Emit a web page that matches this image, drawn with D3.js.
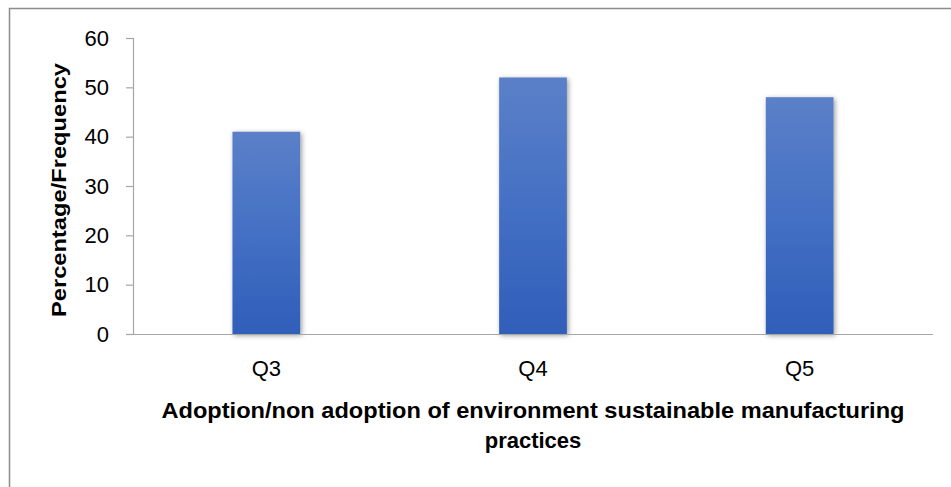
<!DOCTYPE html>
<html>
<head>
<meta charset="utf-8">
<script src="https://cdn.jsdelivr.net/npm/d3@7"></script>
<style>
  html, body { margin: 0; padding: 0; background: #fff; }
  svg { display: block; }
  text { font-family: "Liberation Sans", Arial, sans-serif; fill: #000; }
</style>
</head>
<body>
<div id="chart"></div>
<script>
const categories = ["Q3", "Q4", "Q5"];
const values = [41, 52, 48];
const yTicks = [0, 10, 20, 30, 40, 50, 60];
const yTitle = "Percentage/Frequency";
const xTitleLines = ["Adoption/non adoption of environment sustainable manufacturing", "practices"];

const W = 951, H = 487;
const svg = d3.select("#chart").append("svg").attr("width", W).attr("height", H);

const defs = svg.append("defs");
const grad = defs.append("linearGradient").attr("id", "barGrad")
  .attr("x1", 0).attr("y1", 0).attr("x2", 0).attr("y2", 1);
grad.append("stop").attr("offset", "0%").attr("stop-color", "#5b80c8");
grad.append("stop").attr("offset", "50%").attr("stop-color", "#4470c4");
grad.append("stop").attr("offset", "100%").attr("stop-color", "#2f5eb9");
const filt = defs.append("filter").attr("id", "shadow")
  .attr("x", "-30%").attr("y", "-10%").attr("width", "160%").attr("height", "120%");
filt.append("feDropShadow").attr("dx", 1.5).attr("dy", 1.5).attr("stdDeviation", 2.5)
  .attr("flood-color", "#000").attr("flood-opacity", 0.4);

// outer chart border (cropped at right/bottom)
svg.append("rect").attr("x", 9.5).attr("y", 8.5).attr("width", 1000).attr("height", 600)
  .attr("fill", "none").attr("stroke", "#8c8c8c").attr("stroke-width", 1.5);

const plotL = 133, plotR = 933, plotT = 38, plotB = 334;
const x = d3.scaleBand().domain(categories).range([plotL, plotR])
  .paddingInner(0.746).paddingOuter(0.373);
const xc = d3.scaleBand().domain(categories).range([plotL, plotR]);
const y = d3.scaleLinear().domain([0, 60]).range([plotB, plotT]);

// bars
svg.append("g").selectAll("rect").data(values).join("rect")
  .attr("x", (d, i) => x(categories[i]))
  .attr("width", x.bandwidth())
  .attr("y", d => y(d))
  .attr("height", d => y(0) - y(d))
  .attr("fill", "url(#barGrad)")
  .attr("filter", "url(#shadow)");

// y axis
const yAxis = svg.append("g").attr("transform", `translate(${plotL},0)`)
  .call(d3.axisLeft(y).tickValues(yTicks).tickSize(7).tickPadding(17).tickFormat(d3.format("d")));
yAxis.select(".domain").attr("stroke", "#a6a6a6").attr("stroke-width", 1.2);
yAxis.selectAll(".tick line").attr("stroke", "#a6a6a6").attr("stroke-width", 1.2);
yAxis.selectAll(".tick text").attr("fill", "#000")
  .style("font-size", "22px").style("font-family", "'Liberation Sans', Arial, sans-serif");

// x axis
const xAxis = svg.append("g").attr("transform", `translate(0,${plotB})`)
  .call(d3.axisBottom(xc).tickSize(0).tickPadding(26));
xAxis.select(".domain").attr("stroke", "#a6a6a6").attr("stroke-width", 1.2)
  .attr("d", `M${plotL - 7},0.5H${plotR}`);
xAxis.selectAll(".tick text").attr("fill", "#000")
  .style("font-size", "22px").style("font-family", "'Liberation Sans', Arial, sans-serif");

// y title
svg.append("text")
  .attr("transform", `translate(66,${(63 + 317) / 2}) rotate(-90)`)
  .attr("text-anchor", "middle")
  .style("font-size", "21px").style("font-weight", "bold")
  .attr("textLength", 254).attr("lengthAdjust", "spacingAndGlyphs")
  .text(yTitle);

// x title
const xt = svg.append("text").attr("text-anchor", "middle")
  .style("font-size", "22px").style("font-weight", "bold");
xt.append("tspan").attr("x", 533).attr("y", 418).attr("textLength", 743)
  .attr("lengthAdjust", "spacingAndGlyphs").text(xTitleLines[0]);
xt.append("tspan").attr("x", 533).attr("y", 448).text(xTitleLines[1]);
</script>
</body>
</html>
